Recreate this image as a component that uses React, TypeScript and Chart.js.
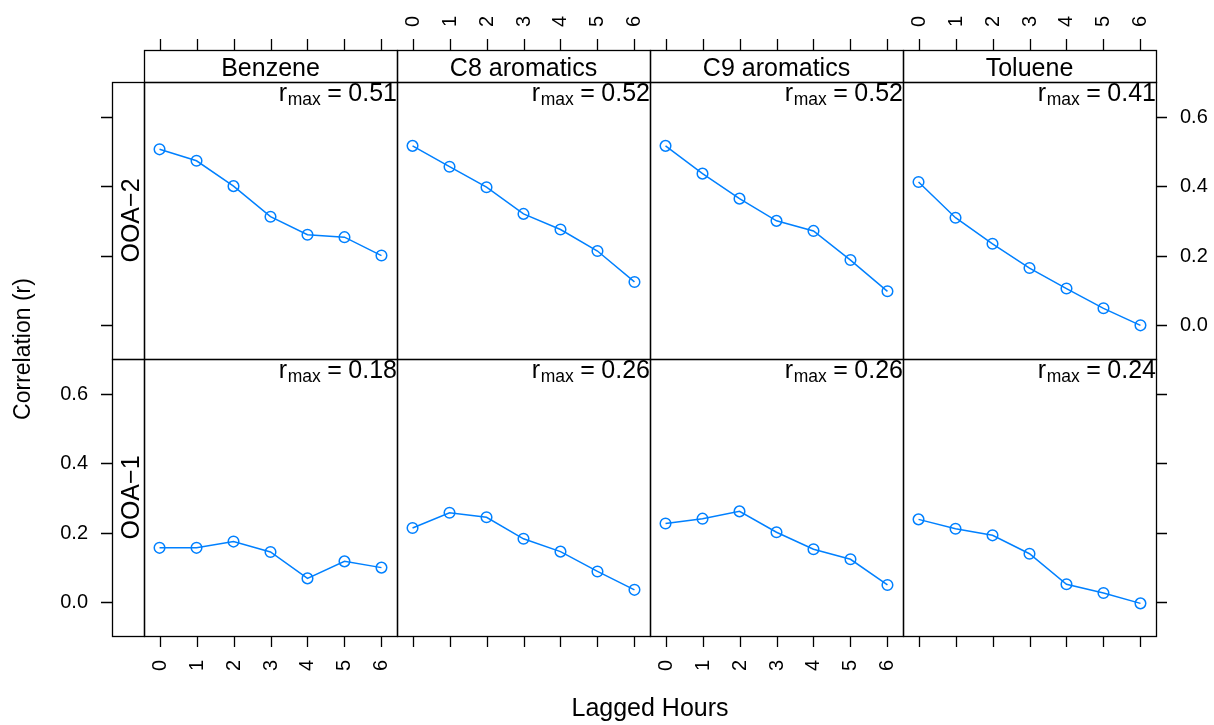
import React, { useEffect, useRef } from "react";
import { Chart, registerables } from "chart.js";

Chart.register(...registerables);

// ---------- data ----------
const lags = [0, 1, 2, 3, 4, 5, 6];
const xTickLabels = ["0", "1", "2", "3", "4", "5", "6"];
const species = ["Benzene", "C8 aromatics", "C9 aromatics", "Toluene"];
const factorLabels = ["OOA\u22122", "OOA\u22121"];

const ooa2Benzene = [0.507, 0.474, 0.401, 0.313, 0.261, 0.254, 0.201];
const ooa2C8 = [0.517, 0.457, 0.398, 0.321, 0.276, 0.214, 0.125];
const ooa2C9 = [0.517, 0.437, 0.365, 0.301, 0.272, 0.188, 0.098];
const ooa2Toluene = [0.413, 0.31, 0.235, 0.165, 0.106, 0.049, 0.0];

const ooa1Benzene = [0.157, 0.157, 0.175, 0.145, 0.069, 0.118, 0.1];
const ooa1C8 = [0.214, 0.258, 0.245, 0.183, 0.146, 0.089, 0.036];
const ooa1C9 = [0.227, 0.241, 0.262, 0.202, 0.153, 0.124, 0.05];
const ooa1Toluene = [0.239, 0.212, 0.193, 0.14, 0.052, 0.027, -0.003];

const rmaxOoa2 = ["0.51", "0.52", "0.52", "0.41"];
const rmaxOoa1 = ["0.18", "0.26", "0.26", "0.24"];

const yTicks = [0, 0.2, 0.4, 0.6];
const yTickLabels = ["0.0", "0.2", "0.4", "0.6"];

const xTitle = "Lagged Hours";
const yTitle = "Correlation (r)";

// ---------- styling ----------
const FONT = '"Liberation Sans", Arial, Helvetica, sans-serif';
const BLUE = "#0080ff";
const X_MIN = -0.42;
const X_MAX = 6.42;
const Y_MIN = -0.097;
const Y_MAX = 0.701;
const STRIP = 32;
const TICK = 11;

const rowSeries = [
  [ooa2Benzene, ooa2C8, ooa2C9, ooa2Toluene],
  [ooa1Benzene, ooa1C8, ooa1C9, ooa1Toluene],
];
const rowRmax = [rmaxOoa2, rmaxOoa1];

const latticePlugin = {
  id: "latticeDecor",
  afterDraw(chart: any) {
    const ctx = chart.ctx as CanvasRenderingContext2D;
    const xs = [0, 1, 2, 3].map((i) => chart.scales["x" + i]);
    const ys = [chart.scales.yTop, chart.scales.yBot];
    const r = (v: number) => Math.round(v) + 0.5;
    const left = xs[0].left;
    const right = xs[3].right;
    const top = ys[0].top;
    const bottom = ys[1].bottom;

    ctx.save();
    ctx.strokeStyle = "#000";
    ctx.fillStyle = "#000";
    ctx.lineWidth = 1.3;

    // panels
    ys.forEach((ySc: any) => {
      xs.forEach((xSc: any) => {
        ctx.strokeRect(r(xSc.left), r(ySc.top), Math.round(xSc.right) - Math.round(xSc.left), Math.round(ySc.bottom) - Math.round(ySc.top));
      });
    });

    // top strips
    xs.forEach((xSc: any, c: number) => {
      ctx.strokeRect(r(xSc.left), r(top - STRIP), Math.round(xSc.right) - Math.round(xSc.left), STRIP);
      ctx.font = `25px ${FONT}`;
      ctx.textAlign = "center";
      ctx.textBaseline = "alphabetic";
      ctx.fillText(species[c], (xSc.left + xSc.right) / 2, top - 6.5);
    });

    // left strips
    ys.forEach((ySc: any, rIdx: number) => {
      ctx.strokeRect(r(left - STRIP), r(ySc.top), STRIP, Math.round(ySc.bottom) - Math.round(ySc.top));
      ctx.save();
      ctx.translate(left - 5, (ySc.top + ySc.bottom) / 2);
      ctx.rotate(-Math.PI / 2);
      ctx.font = `25px ${FONT}`;
      ctx.textAlign = "center";
      ctx.textBaseline = "alphabetic";
      ctx.fillText(factorLabels[rIdx], 0, 0);
      ctx.restore();
    });

    // x ticks top & bottom
    ctx.font = `20px ${FONT}`;
    xs.forEach((xSc: any, c: number) => {
      lags.forEach((h, i) => {
        const px = r(xSc.getPixelForValue(h));
        ctx.beginPath();
        ctx.moveTo(px, top - STRIP);
        ctx.lineTo(px, top - STRIP - TICK);
        ctx.moveTo(px, bottom);
        ctx.lineTo(px, bottom + TICK);
        ctx.stroke();
        if (c % 2 === 1) {
          ctx.save();
          ctx.translate(px, top - STRIP - TICK - 12);
          ctx.rotate(-Math.PI / 2);
          ctx.textAlign = "left";
          ctx.textBaseline = "middle";
          ctx.fillText(xTickLabels[i], 0, 0);
          ctx.restore();
        } else {
          ctx.save();
          ctx.translate(px, bottom + TICK + 13);
          ctx.rotate(-Math.PI / 2);
          ctx.textAlign = "right";
          ctx.textBaseline = "middle";
          ctx.fillText(xTickLabels[i], 0, 0);
          ctx.restore();
        }
      });
    });

    // y ticks left & right
    ys.forEach((ySc: any, rIdx: number) => {
      yTicks.forEach((v, i) => {
        const py = r(ySc.getPixelForValue(v));
        ctx.beginPath();
        ctx.moveTo(left - STRIP, py);
        ctx.lineTo(left - STRIP - TICK, py);
        ctx.moveTo(right, py);
        ctx.lineTo(right + TICK, py);
        ctx.stroke();
        ctx.textBaseline = "middle";
        if (rIdx === 1) {
          ctx.textAlign = "right";
          ctx.fillText(yTickLabels[i], left - STRIP - TICK - 13, py);
        } else {
          ctx.textAlign = "left";
          ctx.fillText(yTickLabels[i], right + TICK + 13, py);
        }
      });
    });

    // r_max annotations
    ys.forEach((ySc: any, rIdx: number) => {
      xs.forEach((xSc: any, c: number) => {
        const base = ySc.top + 18.5;
        let x = xSc.right;
        ctx.textAlign = "right";
        ctx.textBaseline = "alphabetic";
        ctx.font = `25px ${FONT}`;
        const val = rowRmax[rIdx][c];
        ctx.fillText(val, x, base);
        x -= ctx.measureText(val).width + 6.5;
        ctx.fillText("=", x, base);
        x -= ctx.measureText("=").width + 6.5;
        ctx.font = `17.5px ${FONT}`;
        ctx.fillText("max", x, base + 4.5);
        x -= ctx.measureText("max").width + 0.5;
        ctx.font = `25px ${FONT}`;
        ctx.fillText("r", x, base);
      });
    });

    // axis titles
    ctx.font = `25px ${FONT}`;
    ctx.textAlign = "center";
    ctx.textBaseline = "alphabetic";
    ctx.fillText(xTitle, (left + right) / 2, 716);
    ctx.save();
    ctx.translate(30, 349);
    ctx.rotate(-Math.PI / 2);
    ctx.font = `23px ${FONT}`;
    ctx.fillText(yTitle, 0, 0);
    ctx.restore();

    ctx.restore();
  },
};

export default function App() {
  const canvasRef = useRef<HTMLCanvasElement | null>(null);

  useEffect(() => {
    document.body.style.margin = "0";
    const canvas = canvasRef.current;
    if (!canvas) return;

    const datasets: any[] = [];
    rowSeries.forEach((row, rIdx) => {
      row.forEach((vals, c) => {
        datasets.push({
          label: `${factorLabels[rIdx]} ${species[c]}`,
          data: lags.map((h, i) => ({ x: h, y: vals[i] })),
          xAxisID: "x" + c,
          yAxisID: rIdx === 0 ? "yTop" : "yBot",
          borderColor: BLUE,
          borderWidth: 1.5,
          pointRadius: 5.3,
          pointHoverRadius: 5.3,
          pointBorderWidth: 1.5,
          pointBorderColor: BLUE,
          pointBackgroundColor: "rgba(0,0,0,0)",
          fill: false,
          tension: 0,
        });
      });
    });

    const xScale = () => ({
      type: "linear",
      position: "bottom",
      stack: "cols",
      stackWeight: 1,
      min: X_MIN,
      max: X_MAX,
      display: false,
    });

    const chart = new Chart(canvas, {
      type: "line",
      data: { datasets },
      options: {
        animation: false,
        responsive: false,
        maintainAspectRatio: false,
        devicePixelRatio: 1,
        layout: { padding: { left: 144, right: 58, top: 82, bottom: 89 } },
        plugins: { legend: { display: false }, tooltip: { enabled: false } },
        scales: {
          x0: xScale(),
          x1: xScale(),
          x2: xScale(),
          x3: xScale(),
          yTop: {
            type: "linear",
            position: "left",
            stack: "rows",
            stackWeight: 1,
            weight: 2,
            min: Y_MIN,
            max: Y_MAX,
            display: false,
          },
          yBot: {
            type: "linear",
            position: "left",
            stack: "rows",
            stackWeight: 1,
            weight: 1,
            min: Y_MIN,
            max: Y_MAX,
            display: false,
          },
        } as any,
      },
      plugins: [latticePlugin],
    } as any);

    return () => chart.destroy();
  }, []);

  return (
    <div style={{ width: 1214, height: 725, background: "#fff" }}>
      <canvas ref={canvasRef} width={1214} height={725} style={{ display: "block" }} />
    </div>
  );
}
